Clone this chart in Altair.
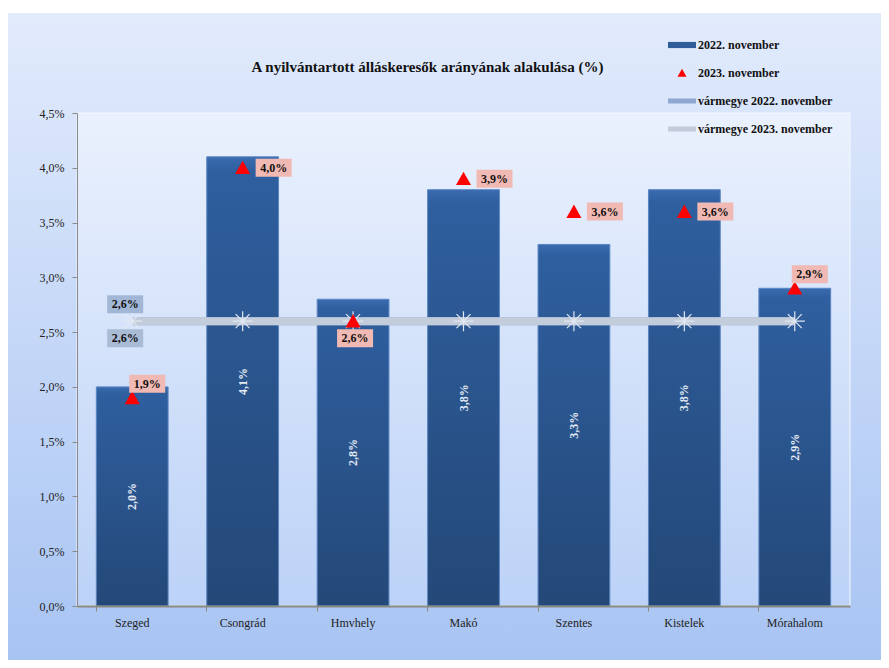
import altair as alt
import pandas as pd

categories = ["Szeged", "Csongrád", "Hmvhely", "Makó", "Szentes", "Kistelek", "Mórahalom"]
v2022 = [2.0, 4.1, 2.8, 3.8, 3.3, 3.8, 2.9]
v2023 = [1.9, 4.0, 2.6, 3.9, 3.6, 3.6, 2.9]
county2022 = [2.6, 2.6, 2.6, 2.6, 2.6, 2.6, 2.6]
county2023 = [2.6, 2.6, 2.6, 2.6, 2.6, 2.6, 2.6]
series_names = ["2022. november", "2023. november", "vármegye 2022. november", "vármegye 2023. november"]
y_ticks = [0, 0.5, 1.0, 1.5, 2.0, 2.5, 3.0, 3.5, 4.0, 4.5]

df = pd.DataFrame({"cat": categories, "v2022": v2022, "v2023": v2023,
                   "c2022": county2022, "c2023": county2023})

FONT = "Liberation Serif"
W, H = 773, 493
PL, PT, PR, PB = 69, 105, 31, 54

fmt = "replace(format({f}, '.1f'), '.', ',') + '%'"

x = alt.X("cat:N", sort=categories, title=None,
          scale=alt.Scale(paddingInner=0.35, paddingOuter=0.175),
          axis=alt.Axis(labelAngle=0, labelFont=FONT, labelFontSize=12, labelColor="#222",
                        domainColor="#8a8a80", domainWidth=2, tickColor="#8a8a80", tickSize=5,
                        bandPosition=0, labelPadding=6, zindex=1))
yscale = alt.Scale(domain=[0, 4.5], nice=False, zero=True)
yaxis = alt.Axis(values=y_ticks, labelExpr="replace(format(datum.value, '.1f'), '.', ',') + '%'",
                 labelFont=FONT, labelFontSize=12, labelColor="#222", grid=False,
                 domainColor="#8a8a8a", tickColor="#8a8a8a", tickSize=5, labelPadding=8,
                 zindex=1, title=None)

base = alt.Chart(df)
one = alt.Chart(pd.DataFrame({"a": [0]}))

outer_bg = one.mark_rect(fill={"gradient": "linear", "x1": 0, "y1": 0, "x2": 0, "y2": 1,
                               "stops": [{"offset": 0, "color": "#e2ebfc"},
                                         {"offset": 1, "color": "#a8c4f3"}]}).encode(
    x=alt.value(-PL), x2=alt.value(W + PR), y=alt.value(-PT + 5), y2=alt.value(H + PB))

plot_bg = one.mark_rect(fill={"gradient": "linear", "x1": 0, "y1": 0, "x2": 0, "y2": 1,
                              "stops": [{"offset": 0, "color": "#eaf1fd"},
                                        {"offset": 1, "color": "#bcd2f7"}]},
                        stroke="#f4f7fe", strokeWidth=1).encode(
    x=alt.value(0), x2=alt.value(W), y=alt.value(0), y2=alt.value(H))

bars = base.mark_bar(fill={"gradient": "linear", "x1": 0, "y1": 0, "x2": 0, "y2": 1,
                           "stops": [{"offset": 0, "color": "#3a6cb0"},
                                     {"offset": 0.03, "color": "#2f5f9f"},
                                     {"offset": 1, "color": "#244878"}]},
                     stroke="#5b86c2", strokeWidth=1).encode(
    x=x, y=alt.Y("v2022:Q", scale=yscale, axis=yaxis))

bar_labels = base.transform_calculate(mid="datum.v2022 / 2", lab=fmt.format(f="datum.v2022")).mark_text(
    angle=270, font=FONT, fontSize=12, fontWeight="bold", color="#e4ebf5",
    align="center", baseline="middle").encode(x=x, y=alt.Y("mid:Q", scale=yscale), text="lab:N")

line22 = base.mark_line(color="#8ea8d2", strokeWidth=8).encode(x=x, y=alt.Y("c2022:Q", scale=yscale))
line23 = base.mark_line(color="#c3ccda", strokeWidth=8).encode(x=x, y=alt.Y("c2023:Q", scale=yscale))
stars = base.mark_point(shape="M-1,0L1,0M0,-1L0,1M-0.7,-0.7L0.7,0.7M-0.7,0.7L0.7,-0.7",
                        filled=False, size=400, color="#e2e8f2", strokeWidth=1.2, opacity=1).encode(
    x=x, y=alt.Y("c2023:Q", scale=yscale))

shape_range = ["M-1,-0.22L1,-0.22L1,0.22L-1,0.22Z",
               "M0,-0.3L0.32,0.27L-0.32,0.27Z",
               "M-1,-0.18L1,-0.18L1,0.18L-1,0.18Z",
               "M-1,-0.18L1,-0.18L1,0.18L-1,0.18Z"]
color_range = ["#2f5d9a", "#ff0000", "#8ea8d2", "#c3ccda"]
legend = alt.Legend(title=None, orient="none", legendX=591, legendY=-82, symbolSize=784,
                    labelFont=FONT, labelFontSize=12, labelFontWeight="bold", labelColor="#111",
                    labelOffset=2, rowPadding=8, padding=0, symbolStrokeWidth=0,
                    symbolOpacity=1)
triangles = base.transform_calculate(series="'2023. november'").mark_point(
    filled=True, size=2200, opacity=1, strokeWidth=0).encode(
    x=x, y=alt.Y("v2023:Q", scale=yscale),
    shape=alt.Shape("series:N", scale=alt.Scale(domain=series_names, range=shape_range), legend=legend),
    color=alt.Color("series:N", scale=alt.Scale(domain=series_names, range=color_range), legend=legend))

BOX = "M-1,-0.5L1,-0.5L1,0.5L-1,0.5Z"

def tri_labels(group, dx, dy):
    src = base.transform_filter(alt.FieldOneOfPredicate(field="cat", oneOf=group)).transform_calculate(
        lab=fmt.format(f="datum.v2023"))
    box = src.mark_point(shape=BOX, filled=True, size=1296, color="#f1b9b3", opacity=1,
                         xOffset=dx, yOffset=dy).encode(x=x, y=alt.Y("v2023:Q", scale=yscale))
    txt = src.mark_text(font=FONT, fontSize=12, fontWeight="bold", color="#111", dx=dx, dy=dy,
                        align="center", baseline="middle").encode(
        x=x, y=alt.Y("v2023:Q", scale=yscale), text="lab:N")
    return [box, txt]

def county_label(field, dx, dy, col):
    src = base.transform_filter(alt.datum.cat == categories[0]).transform_calculate(
        lab=fmt.format(f="datum." + field))
    box = src.mark_point(shape=BOX, filled=True, size=1296, color=col, opacity=1,
                         xOffset=dx, yOffset=dy).encode(x=x, y=alt.Y(field + ":Q", scale=yscale))
    txt = src.mark_text(font=FONT, fontSize=12, fontWeight="bold", color="#111", dx=dx, dy=dy,
                        align="center", baseline="middle").encode(
        x=x, y=alt.Y(field + ":Q", scale=yscale), text="lab:N")
    return [box, txt]

right_side = ["Csongrád", "Makó", "Szentes", "Kistelek"]
upper_right = ["Szeged", "Mórahalom"]
below = ["Hmvhely"]

layers = [outer_bg, plot_bg, bars, bar_labels, line22, line23, stars, triangles]
layers += tri_labels(right_side, 31, 0)
layers += tri_labels(upper_right, 15, -14)
layers += tri_labels(below, 2, 17)
layers += county_label("c2022", -7, -17, "#a2b7d6")
layers += county_label("c2023", -7, 17, "#a9bbd5")

chart = alt.layer(*layers).properties(
    width=W, height=H,
    title=alt.TitleParams("A nyilvántartott álláskeresők arányának alakulása (%)",
                          font=FONT, fontSize=15, fontWeight="bold", color="#111",
                          anchor="middle", frame="group", dx=-36, dy=62, offset=0),
    padding={"left": PL, "top": PT, "right": PR, "bottom": PB},
    autosize=alt.AutoSizeParams(type="none"),
).configure_view(stroke=None)

chart.save("out.html", embed_options={"renderer": "svg", "actions": False})
